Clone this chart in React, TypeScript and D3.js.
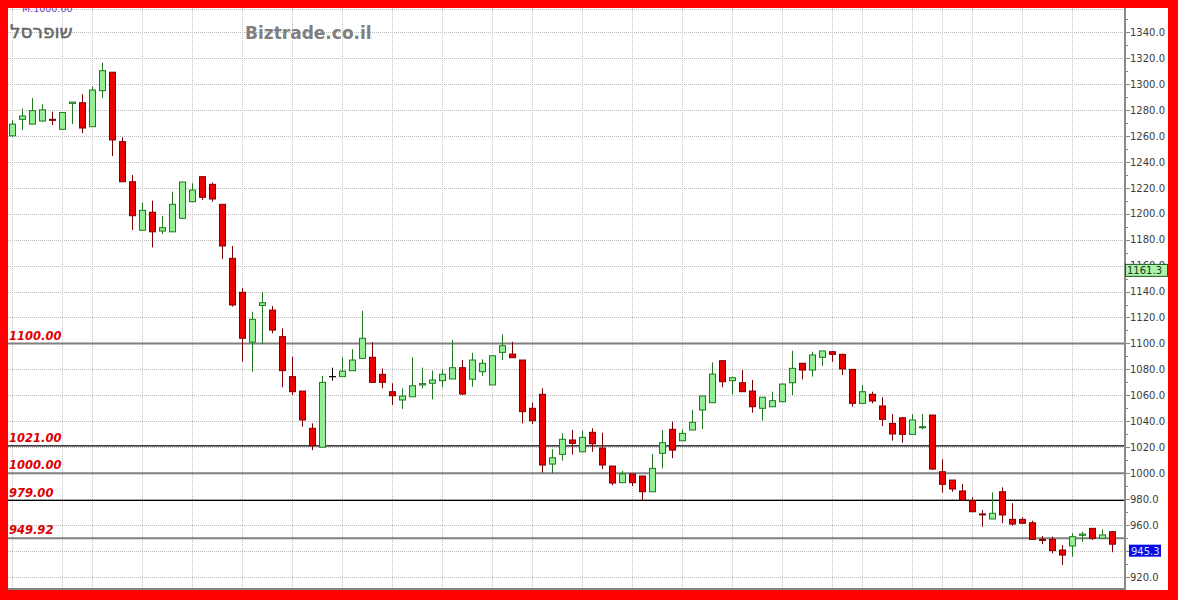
import React from 'react';
import * as d3 from 'd3';

// ---- DATA ----
const openValues = [
  1260, 1272.7, 1269, 1271.4, 1272.7, 1265, 1285, 1285.5, 1267, 1294.8,
  1309, 1255.5, 1224.6, 1187.2, 1201.1, 1186.6, 1186, 1196.4, 1209.2, 1228.5,
  1222.6, 1207.2, 1165.6, 1139.4, 1101, 1129.2, 1125.7, 1105.2, 1074.4, 1063.3,
  1034.6, 1020, 1074.4, 1074.4, 1079, 1088.5, 1089.3, 1076.2, 1062.8, 1056.4,
  1058.9, 1068, 1069.3, 1071.3, 1072.6, 1081.3, 1072.4, 1078.2, 1068, 1093.1,
  1091.8, 1087.2, 1050, 1060.8, 1007, 1014.5, 1025.6, 1016.5, 1031.5, 1019.4,
  1005.5, 992.7, 999.4, 997.8, 985.7, 1015.3, 1033.8, 1025, 1033.3, 1048.7,
  1054.3, 1086.7, 1071.3, 1069.7, 1063.3, 1050, 1051.2, 1055.1, 1069.7, 1084.7,
  1079.5, 1089.3, 1093.6, 1091.6, 1080, 1053.8, 1060.8, 1051.8, 1038.4, 1042.7,
  1029.9, 1035.3, 1044.8, 1001.1, 994.7, 986.3, 978.8, 968.6, 964.7, 985.7,
  964.4, 964.4, 961.8, 949, 949, 940.8, 943.9, 952.1, 957.5, 949.8,
  954.9,
];
const highValues = [
  1272, 1281, 1289, 1284.3, 1278.6, 1278, 1286, 1292, 1298, 1316.3,
  1309, 1258.8, 1229.8, 1208.4, 1210, 1198.2, 1216.9, 1224.4, 1223.4, 1228.5,
  1224, 1207.2, 1175, 1142.5, 1124.4, 1139.6, 1128.8, 1111.6, 1089.8, 1063.3,
  1038.4, 1074.9, 1081.3, 1089.3, 1095.5, 1125.2, 1100.9, 1080.8, 1069.3, 1065.4,
  1089.3, 1081.3, 1079, 1080, 1102.6, 1087.2, 1092.8, 1087.8, 1090.5, 1107,
  1101.3, 1087.2, 1054.3, 1065.4, 1018.4, 1030.7, 1033.3, 1032.7, 1034.6, 1031.2,
  1005.5, 1001.7, 999.4, 997.8, 1014.8, 1033.3, 1039.7, 1033.8, 1048.7, 1059.5,
  1085.4, 1086.7, 1074, 1079.5, 1071.8, 1058.5, 1062.8, 1069, 1094.4, 1085,
  1093.6, 1094.2, 1094, 1092, 1080, 1067.9, 1062.8, 1058.5, 1045.6, 1043,
  1045.6, 1045.6, 1044.8, 1010.7, 994.7, 991.7, 981.4, 971.6, 985.3, 989.1,
  976.8, 966, 963.4, 951.6, 951.1, 944.6, 953.7, 954.9, 957.5, 956.7,
  955,
];
const lowValues = [
  1259, 1264.5, 1269, 1271, 1268.3, 1265, 1269, 1262, 1267, 1289,
  1244.4, 1224.6, 1187.4, 1187, 1174, 1184.3, 1186, 1196.4, 1209, 1210.5,
  1209.2, 1165, 1128.3, 1086, 1078.2, 1099.8, 1107.8, 1066.2, 1060.2, 1035.8,
  1017.8, 1020, 1071.3, 1074.4, 1079, 1088.5, 1070, 1065.4, 1052.5, 1049.5,
  1058.9, 1065.4, 1056.9, 1066.2, 1072.6, 1060, 1066.7, 1074.9, 1068, 1087.2,
  1089, 1038.4, 1037.9, 1000.4, 999.9, 1009.6, 1014.5, 1016.5, 1016.5, 1003,
  990.6, 992.7, 990.1, 979.3, 985.7, 1003.7, 1011.5, 1025, 1033.3, 1034,
  1054.3, 1066.2, 1060.8, 1062.8, 1046.6, 1040.4, 1051, 1055, 1060.2, 1072.3,
  1074.4, 1082.6, 1085.9, 1075.7, 1051.2, 1054, 1053.8, 1036.3, 1025, 1023.5,
  1029.9, 1033.8, 1002.4, 985, 985.7, 979.3, 970.3, 958.7, 964.7, 961.4,
  959.5, 961.4, 949, 945.4, 938.2, 929.2, 935.6, 947.2, 948.5, 949.8,
  939.1,
];
const closeValues = [
  1269, 1275.3, 1279.4, 1280, 1272, 1278, 1286, 1266, 1295.3, 1310.2,
  1256.8, 1224.6, 1198.4, 1202.6, 1186, 1189.2, 1207.2, 1224.4, 1218.2, 1212.6,
  1211.3, 1175.1, 1129.6, 1104, 1118.6, 1131.4, 1110.3, 1079, 1062.8, 1041,
  1021.2, 1070, 1074.4, 1078.7, 1087.2, 1104, 1070, 1070, 1059.7, 1059.5,
  1067.4, 1069, 1071.8, 1076.2, 1081.3, 1061, 1087.2, 1084.7, 1090.5, 1098.2,
  1089, 1047.4, 1040.4, 1006.3, 1011.9, 1026.1, 1023, 1027.6, 1022.7, 1006.3,
  992.4, 999.4, 992.7, 985.7, 1003.7, 1023.5, 1017.8, 1030.7, 1039.2, 1059.5,
  1076.4, 1070.5, 1073.6, 1062.8, 1051.2, 1058.5, 1055.9, 1068.7, 1080.8, 1079.5,
  1091.1, 1094.2, 1091.6, 1080.3, 1053.8, 1062.8, 1055.6, 1041.5, 1030.2, 1029.9,
  1041, 1035.8, 1003.2, 991.4, 987.8, 979.3, 970.3, 968.1, 969.1, 967.8,
  960.8, 961.4, 949, 948.6, 940.3, 936.9, 951.1, 953.1, 949.8, 952.4,
  945.3,
];
// sessions that start a new week (vertical grid lines)
const weekStartIndex = [0, 5, 8, 13, 18, 23, 28, 33, 38, 43, 48, 52, 57, 62, 67, 72, 77, 82, 85, 90, 93, 96, 101, 106];
const yTickValues = [920, 940, 960, 980, 1000, 1020, 1040, 1060, 1080, 1100, 1120, 1140, 1160, 1180, 1200, 1220, 1240, 1260, 1280, 1300, 1320, 1340];
const yMinorValues = [930, 950, 970, 990, 1010, 1030, 1050, 1070, 1090, 1110, 1130, 1150, 1170, 1190, 1210, 1230, 1250, 1270, 1290, 1310, 1330, 1350];
const levelValues = [1100, 1021, 1000, 979, 949.92];
const levelLabels = ['1100.00', '1021.00', '1000.00', '979.00', '949.92'];
const levelKinds = ['round', 'support', 'round', 'support', 'round'];
const indicatorValue = 1161.3;
const lastValue = 945.3;
const titleText = 'Biztrade.co.il';
const symbolText = 'שופרסל';
const topNote = 'M.1000.00';

const W = 1178;
const H = 600;
const plotLeft = 8;
const plotRight = 1125;
const plotTop = 8;
const plotBottom = 589;

export default function App() {
  const n = closeValues.length;
  const x = d3.scaleLinear().domain([0, n - 1]).range([13, 13 + 10 * (n - 1)]);
  const y = d3.scaleLinear().domain([920, 1340]).range([577, 32]);
  const font = 'DejaVu Sans, Verdana, sans-serif';

  const candles = d3.range(n).map((i) => {
    const o = openValues[i];
    const c = closeValues[i];
    const h = highValues[i];
    const l = lowValues[i];
    const cx = Math.round(x(i));
    const up = c > o;
    const flat = c === o;
    const stroke = flat ? '#000000' : up ? '#1f7a1f' : '#7a0000';
    const fill = up ? '#94ee94' : '#ee0000';
    const yTop = y(Math.max(o, c));
    const yBot = y(Math.min(o, c));
    const bh = Math.max(1, yBot - yTop);
    return (
      <g key={i}>
        <line x1={cx - 0.5} x2={cx - 0.5} y1={y(h)} y2={y(l)} stroke={stroke} strokeWidth={1} />
        {flat ? (
          <line x1={cx - 4} x2={cx + 3} y1={yTop} y2={yTop} stroke={stroke} strokeWidth={1.2} />
        ) : (
          <rect x={cx - 3.5} y={yTop} width={6} height={bh} fill={fill} stroke={stroke} strokeWidth={1} />
        )}
      </g>
    );
  });

  return (
    <svg width={W} height={H} style={{ position: 'absolute', left: 0, top: 0 }} xmlns="http://www.w3.org/2000/svg">
      <rect x={0} y={0} width={W} height={H} fill="#ff0000" />
      <rect x={plotLeft} y={plotTop} width={1168 - plotLeft} height={590 - plotTop} fill="#ffffff" />

      {/* horizontal grid */}
      {yTickValues.map((v) => (
        <line key={'hg' + v} x1={plotLeft} x2={plotRight} y1={Math.round(y(v)) + 0.5} y2={Math.round(y(v)) + 0.5}
          stroke="#bcbcbc" strokeWidth={1} strokeDasharray="1,1" />
      ))}
      <line x1={plotLeft} x2={plotRight} y1={9.5} y2={9.5} stroke="#c4c4c4" strokeWidth={1} strokeDasharray="1,1" />
      {/* vertical grid */}
      {weekStartIndex.map((i) => (
        <line key={'vg' + i} x1={Math.round(x(i)) - 0.5} x2={Math.round(x(i)) - 0.5} y1={plotTop} y2={plotBottom}
          stroke="#c4c4c4" strokeWidth={1} strokeDasharray="1,1" />
      ))}

      {/* level lines */}
      {levelValues.map((v, k) => (
        <line key={'lv' + v} x1={plotLeft} x2={plotRight} y1={y(v)} y2={y(v)}
          stroke={levelKinds[k] === 'round' ? '#7f7f7f' : '#000000'}
          strokeWidth={levelKinds[k] === 'round' ? 2 : 1.2} />
      ))}
      {levelValues.map((v, k) => (
        <text key={'ll' + v} x={9} y={y(v) - 3.7} fill="#dd0000" fontFamily={font} fontSize={11.5}
          fontWeight="bold" fontStyle="italic">{levelLabels[k]}</text>
      ))}

      {/* candles */}
      {candles}

      {/* title texts */}
      <text x={245} y={38.5} fill="#7f7f7f" fontFamily={font} fontSize={17} fontWeight="bold">{titleText}</text>
      <text x={10} y={38} fill="#666666" stroke="#666666" strokeWidth={0.5} fontFamily={font} fontSize={18.5}>{symbolText}</text>
      <text x={22} y={12} fill="#6a44c8" fontFamily={font} fontSize={9.5}>{topNote}</text>

      {/* axes */}
      <line x1={plotLeft} x2={plotRight + 1} y1={plotBottom} y2={plotBottom} stroke="#5a5a5a" strokeWidth={1.5} />
      <line x1={plotRight} x2={plotRight} y1={plotTop} y2={590} stroke="#8a8a8a" strokeWidth={2} />
      {yTickValues.map((v) => (
        <line key={'tk' + v} x1={plotRight} x2={plotRight + 5} y1={Math.round(y(v)) + 0.5} y2={Math.round(y(v)) + 0.5}
          stroke="#8a8a8a" strokeWidth={1} />
      ))}
      {yMinorValues.map((v) => (
        <line key={'mk' + v} x1={plotRight} x2={plotRight + 3} y1={Math.round(y(v)) + 0.5} y2={Math.round(y(v)) + 0.5}
          stroke="#8a8a8a" strokeWidth={1} />
      ))}
      {yTickValues.map((v) => (
        <text key={'tl' + v} x={1130} y={y(v) + 3.8} fill="#3c3c3c" fontFamily={font} fontSize={10}>
          {d3.format('.1f')(v)}
        </text>
      ))}

      {/* value boxes */}
      <rect x={1125.5} y={y(indicatorValue) + 0.5} width={42} height={12} fill="#aef2ae" stroke="#1e5a1e" strokeWidth={1} />
      <text x={1127} y={y(indicatorValue) + 10.5} fill="#123a12" fontFamily={font} fontSize={10}>{d3.format('.1f')(indicatorValue)}</text>
      <rect x={1129} y={y(lastValue) + 0.5} width={32} height={12} fill="#0a0ae6" />
      <text x={1131} y={y(lastValue) + 10.5} fill="#d8e4ff" fontFamily={font} fontSize={10}>{d3.format('.1f')(lastValue)}</text>

      {/* top red band over note */}
      <rect x={0} y={0} width={W} height={plotTop} fill="#ff0000" />
    </svg>
  );
}
